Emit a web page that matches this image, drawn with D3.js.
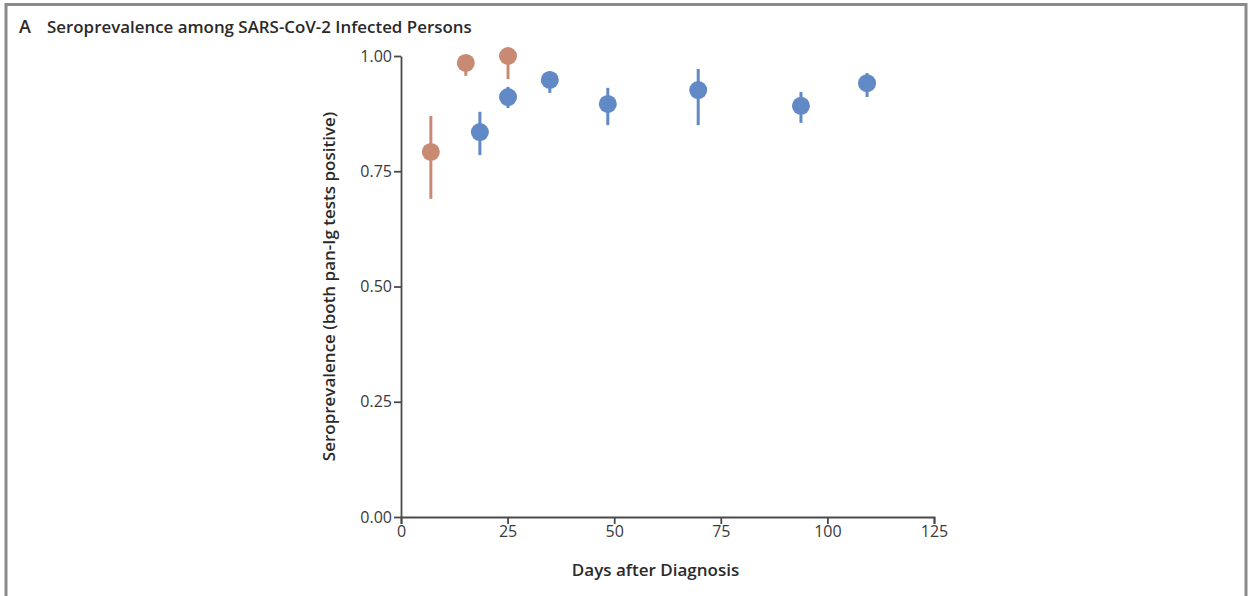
<meta charset="utf-8">
<script src="https://cdn.jsdelivr.net/npm/d3@7"></script>

<style>
  body { margin: 0; background: #fff; }
  .frame { stroke: #8a8a8a; stroke-width: 3; fill: none; }
  .axis path, .axis line { stroke: #4a4a4a; stroke-width: 1.8; }
  .axis text { font-family: "Open Sans"; font-size: 16px; fill: #3a3a3a; }
  .lbl { font-family: "Open Sans"; font-weight: 600; fill: #2a2a2a; }
</style>

<div id="chart"></div>

<script>
// early group (orange) and later group (blue)
var earlyDays  = [7, 15.2, 25.1];
var earlyPrev  = [0.792, 0.985, 1.00];
var earlyLow   = [0.690, 0.957, 0.950];
var earlyHigh  = [0.870, 1.00, 1.00];

var lateDays   = [18.5, 25.1, 34.9, 48.5, 69.7, 93.8, 109.3];
var latePrev   = [0.835, 0.911, 0.948, 0.896, 0.926, 0.892, 0.941];
var lateLow    = [0.785, 0.887, 0.920, 0.850, 0.850, 0.855, 0.911];
var lateHigh   = [0.879, 0.933, 0.967, 0.931, 0.972, 0.922, 0.963];

var xTicks = [0, 25, 50, 75, 100, 125];
var yTicks = [0, 0.25, 0.5, 0.75, 1.0];

var W = 1251, H = 596;
var margin = {top: 56, right: 317, bottom: 79, left: 401},
    width = W - margin.left - margin.right,
    height = H - margin.top - margin.bottom;

var svg = d3.select("#chart").append("svg")
    .attr("width", W).attr("height", H);

// outer frame (open at the bottom)
svg.append("path").attr("class", "frame")
    .attr("d", "M6,600 L6,4.5 L1246,4.5 L1246,600");

svg.append("text").attr("class", "lbl")
    .attr("x", 19).attr("y", 33).attr("font-size", 18)
    .text("A");
svg.append("text").attr("class", "lbl")
    .attr("x", 47).attr("y", 33).attr("font-size", 16.9)
    .text("Seroprevalence among SARS-CoV-2 Infected Persons");

var g = svg.append("g")
    .attr("transform", "translate(" + margin.left + "," + margin.top + ")");

var x = d3.scaleLinear().domain([0, 125]).range([0, width]);
var y = d3.scaleLinear().domain([0, 1]).range([height, 0]);

g.append("g").attr("class", "axis")
    .attr("transform", "translate(0," + height + ")")
    .call(d3.axisBottom(x).tickValues(xTicks).tickSize(7).tickSizeOuter(7).tickPadding(2));

g.append("g").attr("class", "axis")
    .call(d3.axisLeft(y).tickValues(yTicks).tickFormat(d3.format(".2f"))
      .tickSize(7).tickSizeOuter(0).tickPadding(2));

g.append("text").attr("class", "lbl")
    .attr("x", width / 2 - 12).attr("y", height + 59)
    .attr("text-anchor", "middle").attr("font-size", 17)
    .text("Days after Diagnosis");

g.append("text").attr("class", "lbl")
    .attr("transform", "translate(-66," + (height / 2) + ") rotate(-90)")
    .attr("text-anchor", "middle").attr("font-size", 17)
    .text("Seroprevalence (both pan-Ig tests positive)");

function drawSeries(days, prev, low, high, color) {
  var data = days.map(function(d, i) {
    return {day: d, p: prev[i], lo: low[i], hi: high[i]};
  });
  var s = g.append("g");
  s.selectAll("line").data(data).enter().append("line")
    .attr("x1", function(d) { return x(d.day); })
    .attr("x2", function(d) { return x(d.day); })
    .attr("y1", function(d) { return y(d.lo); })
    .attr("y2", function(d) { return y(d.hi); })
    .attr("stroke", color).attr("stroke-width", 3);
  s.selectAll("circle").data(data).enter().append("circle")
    .attr("cx", function(d) { return x(d.day); })
    .attr("cy", function(d) { return y(d.p); })
    .attr("r", 9)
    .attr("fill", color);
}

drawSeries(earlyDays, earlyPrev, earlyLow, earlyHigh, "#c98a74");
drawSeries(lateDays, latePrev, lateLow, lateHigh, "#6189c6");
</script>
